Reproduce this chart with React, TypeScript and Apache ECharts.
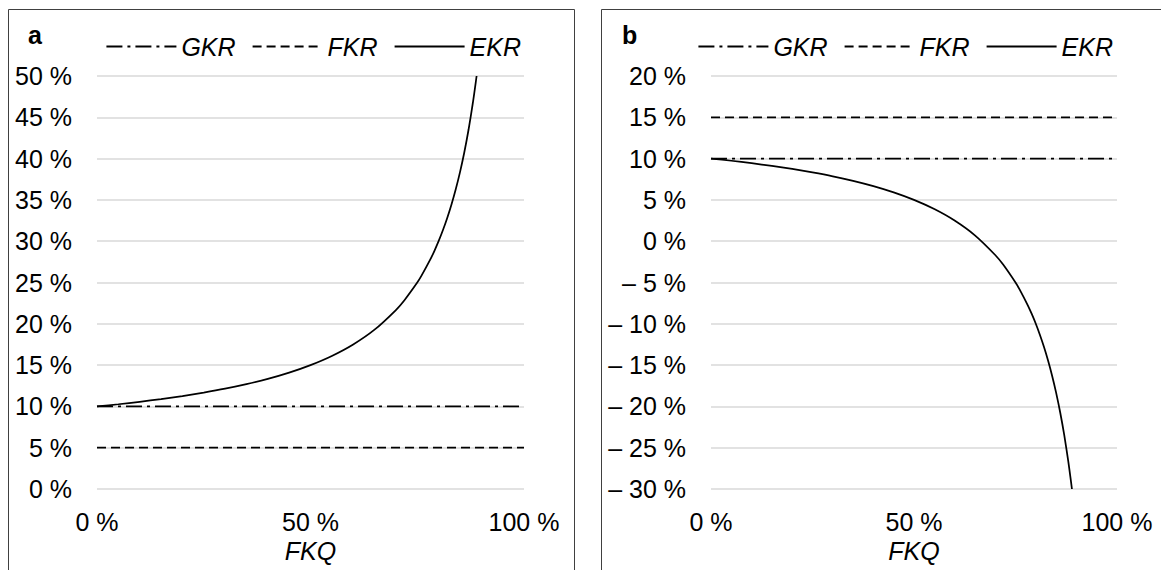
import React, { useEffect, useRef } from "react";
import * as echarts from "echarts";

// FKQ values (x, in %)
const fkq = [0, 5, 10, 15, 20, 25, 30, 35, 40, 45, 50, 55, 60, 65, 70, 72, 75, 76, 78, 79, 80, 81, 82, 83, 84, 85, 86, 87, 88, 88.5, 88.9];
// Panel a: EKR (%)
const ekrA = [10, 10.26, 10.56, 10.88, 11.25, 11.67, 12.14, 12.69, 13.33, 14.09, 15, 16.11, 17.5, 19.29, 21.67, 22.86, 25, 25.83, 27.73, 28.81, 30, 31.32, 32.78, 34.41, 36.25, 38.33, 40.71, 43.46, 46.67, 48.48, 50];
// Panel b: EKR (%)
const ekrB = [10, 9.74, 9.44, 9.12, 8.75, 8.33, 7.86, 7.31, 6.67, 5.91, 5, 3.89, 2.5, 0.71, -1.67, -2.86, -5, -5.83, -7.73, -8.81, -10, -11.32, -12.78, -14.41, -16.25, -18.33, -20.71, -23.46, -26.67, -28.48, -30];
// Constant lines
const xRange = [0, 100];
const gkrA = [10, 10];
const fkrA = [5, 5];
const gkrB = [10, 10];
const fkrB = [15, 15];
// Axis ranges
const yRangeA = [0, 50];
const yRangeB = [-30, 20];
const panelLabels = ["a", "b"];
const legendNames = ["GKR", "FKR", "EKR"];

const FONT = "'Liberation Sans', Arial, sans-serif";
const DASHDOT = [16, 5, 3, 5];
const DASHED = [9, 5];

function pct(v: number) {
  return v < 0 ? `\u2013 ${-v} %` : `${v} %`;
}

export default function App() {
  const ref = useRef<HTMLDivElement>(null);
  useEffect(() => {
    document.body.style.margin = "0";
    const chart = echarts.init(ref.current!, null, { renderer: "svg" });
    const lineW = 1.75;
    const mkXAxis = (gridIndex: number) => ({
      type: "value",
      gridIndex,
      min: xRange[0],
      max: xRange[1],
      interval: 50,
      axisLine: { show: false },
      axisTick: { show: false },
      splitLine: { show: false },
      axisLabel: { formatter: pct, color: "#000", fontSize: 25, fontFamily: FONT, margin: 20 },
      name: "FKQ",
      nameLocation: "middle",
      nameGap: 46,
      nameTextStyle: { color: "#000", fontSize: 25, fontFamily: FONT, fontStyle: "italic" },
    });
    const mkYAxis = (gridIndex: number, r: number[]) => ({
      type: "value",
      gridIndex,
      min: r[0],
      max: r[1],
      interval: 5,
      axisLine: { show: false },
      axisTick: { show: false },
      splitLine: { show: true, lineStyle: { color: "#d9d9d9", width: 1.5 } },
      axisLabel: { formatter: pct, color: "#000", fontSize: 25, fontFamily: FONT, margin: 25 },
    });
    const pair = (xs: number[], ys: number[]) => xs.map((x, i) => [x, ys[i]]);
    const mkSeries = (idx: number, gkr: number[], fkr: number[], ekr: number[]) => [
      {
        name: "GKR", type: "line", xAxisIndex: idx, yAxisIndex: idx, symbol: "none", color: "#000",
        data: pair(xRange, gkr), lineStyle: { color: "#000", width: lineW, type: DASHDOT }, z: 3,
      },
      {
        name: "FKR", type: "line", xAxisIndex: idx, yAxisIndex: idx, symbol: "none", color: "#000",
        data: pair(xRange, fkr), lineStyle: { color: "#000", width: lineW, type: DASHED }, z: 3,
      },
      {
        name: "EKR", type: "line", xAxisIndex: idx, yAxisIndex: idx, symbol: "none", color: "#000",
        smooth: 0.25,
        data: pair(fkq, ekr), lineStyle: { color: "#000", width: lineW, type: "solid" }, z: 4,
      },
    ];
    const mkLegend = (right: number) => ({
      data: legendNames,
      top: 29,
      right,
      itemWidth: 70,
      itemHeight: 12,
      itemGap: 16,
      selectedMode: false,
      itemStyle: { opacity: 0 },
      textStyle: { color: "#000", fontSize: 25, fontFamily: FONT, fontStyle: "italic", padding: [0, 0, 0, 0] },
    });
    chart.setOption({
      animation: false,
      backgroundColor: "#fff",
      grid: [
        { left: 97, right: 1161 - 524, top: 76, bottom: 570 - 489 },
        { left: 711, right: 1161 - 1117, top: 76, bottom: 570 - 489 },
      ],
      xAxis: [mkXAxis(0), mkXAxis(1)],
      yAxis: [mkYAxis(0, yRangeA), mkYAxis(1, yRangeB)],
      legend: [mkLegend(1161 - 526), mkLegend(1161 - 1118)],
      series: [...mkSeries(0, gkrA, fkrA, ekrA), ...mkSeries(1, gkrB, fkrB, ekrB)],
      graphic: [
        { type: "rect", shape: { x: 8.5, y: 9.5, width: 566, height: 700 }, style: { fill: "none", stroke: "#404040", lineWidth: 1 }, silent: true },
        { type: "rect", shape: { x: 601.5, y: 9.5, width: 700, height: 700 }, style: { fill: "none", stroke: "#404040", lineWidth: 1 }, silent: true },
        { type: "text", x: 28, y: 35, style: { text: panelLabels[0], fontSize: 25, fontWeight: "bold", fontFamily: FONT, fill: "#000", verticalAlign: "middle" } },
        { type: "text", x: 622, y: 35, style: { text: panelLabels[1], fontSize: 25, fontWeight: "bold", fontFamily: FONT, fill: "#000", verticalAlign: "middle" } },
      ],
    });
    return () => chart.dispose();
  }, []);
  return <div ref={ref} style={{ position: "absolute", left: 0, top: 0, width: 1161, height: 570 }} />;
}
